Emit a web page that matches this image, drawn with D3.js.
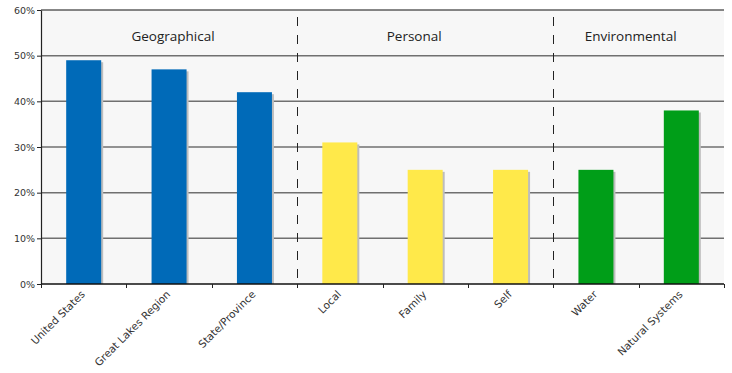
<!DOCTYPE html>
<html>
<head>
<meta charset="utf-8">
<script src="https://cdn.jsdelivr.net/npm/d3@7"></script>
<style>
  body { margin: 0; background: #fff; }
  svg text { fill: #222; }
</style>
</head>
<body>
<svg id="chart"></svg>
<script>
// Data
const categories = ["United States", "Great Lakes Region", "State/Province", "Local", "Family", "Self", "Water", "Natural Systems"];
const values = [49, 47, 42, 31, 25, 25, 25, 38];
const groups = ["Geographical", "Geographical", "Geographical", "Personal", "Personal", "Personal", "Environmental", "Environmental"];
const groupNames = ["Geographical", "Personal", "Environmental"];
const groupColors = ["#006ab8", "#ffe94a", "#009e18"];
const yTicks = [0, 10, 20, 30, 40, 50, 60];

// Chart Dimensions
const width = 732;
const height = 373;
const margin = { top: 10, right: 8, bottom: 89, left: 41 };

const svg = d3.select("#chart").attr("width", width).attr("height", height);

// Scales
const x = d3.scaleBand()
  .domain(categories)
  .range([margin.left, width - margin.right])
  .paddingInner(0.59)
  .paddingOuter(0.295);

const y = d3.scaleLinear()
  .domain([0, 60])
  .range([height - margin.bottom, margin.top]);

const color = d3.scaleOrdinal().domain(groupNames).range(groupColors);

// Plot background
svg.append("rect")
  .attr("x", margin.left)
  .attr("y", margin.top)
  .attr("width", width - margin.right - margin.left)
  .attr("height", y(0) - margin.top)
  .attr("fill", "#f7f7f7");

// Gridlines
svg.append("g")
  .selectAll("line")
  .data(yTicks.slice(1, -1))
  .enter()
  .append("line")
  .attr("x1", margin.left)
  .attr("x2", width - margin.right)
  .attr("y1", (d) => y(d))
  .attr("y2", (d) => y(d))
  .attr("stroke", "#707070")
  .attr("stroke-width", 1.5);

// Top border
svg.append("line")
  .attr("x1", margin.left)
  .attr("x2", width - margin.right)
  .attr("y1", y(60))
  .attr("y2", y(60))
  .attr("stroke", "#111")
  .attr("stroke-width", 1.2);

// Group separators (between groups)
const step = x.step();
const groupStart = groupNames.map((g) => categories[groups.indexOf(g)]);
const groupEnd = groupNames.map((g) => categories[groups.lastIndexOf(g)]);

svg.append("g")
  .selectAll("line")
  .data(groupStart.slice(1))
  .enter()
  .append("line")
  .attr("x1", (d) => Math.round(x(d) - (step - x.bandwidth()) / 2) + 0.5)
  .attr("x2", (d) => Math.round(x(d) - (step - x.bandwidth()) / 2) + 0.5)
  .attr("y1", y(60))
  .attr("y2", y(0))
  .attr("stroke", "#222")
  .attr("stroke-width", 1)
  .attr("stroke-dasharray", "9,9")
  .attr("stroke-dashoffset", -7);

// Group labels
const labelShift = [4, -11, -8];
svg.append("g")
  .selectAll("text")
  .data(groupNames)
  .enter()
  .append("text")
  .attr("x", (d, i) => {
    const a = x(groupStart[i]) - (step - x.bandwidth()) / 2;
    const b = x(groupEnd[i]) + x.bandwidth() + (step - x.bandwidth()) / 2;
    return (a + b) / 2 + labelShift[i];
  })
  .attr("y", 41)
  .attr("text-anchor", "middle")
  .style("font-family", "'Open Sans', sans-serif")
  .style("font-size", "13.5px")
  .text((d) => d);

// Bar shadows
svg.append("g")
  .selectAll("rect")
  .data(values)
  .enter()
  .append("rect")
  .attr("x", (d, i) => x(categories[i]) + 2)
  .attr("y", (d) => y(d) + 2)
  .attr("width", x.bandwidth())
  .attr("height", (d) => y(0) - y(d) - 2)
  .attr("fill", "#bdbdbd");

// Bars
svg.append("g")
  .selectAll("rect")
  .data(values)
  .enter()
  .append("rect")
  .attr("x", (d, i) => x(categories[i]))
  .attr("y", (d) => y(d))
  .attr("width", x.bandwidth())
  .attr("height", (d) => y(0) - y(d))
  .attr("fill", (d, i) => color(groups[i]));

// Y axis
const yAxis = svg.append("g")
  .attr("transform", `translate(${margin.left},0)`)
  .call(d3.axisLeft(y).tickValues(yTicks).tickFormat((d) => d + "%").tickSize(4).tickSizeOuter(0));
yAxis.select(".domain").attr("stroke", "#222").attr("stroke-width", 1.2);
yAxis.selectAll(".tick line").attr("stroke", "#222");
yAxis.selectAll("text")
  .attr("x", -6)
  .style("font-family", "'DejaVu Sans', sans-serif")
  .style("font-size", "9.5px")
  .style("fill", "#333");

// X axis
const bounds = categories.map((c) => x(c) - (step - x.bandwidth()) / 2).concat([width - margin.right]);
const xAxisG = svg.append("g");
xAxisG.append("line")
  .attr("x1", margin.left)
  .attr("x2", width - margin.right)
  .attr("y1", y(0))
  .attr("y2", y(0))
  .attr("stroke", "#111")
  .attr("stroke-width", 1.5);
xAxisG.selectAll(".xtick")
  .data(bounds)
  .enter()
  .append("line")
  .attr("class", "xtick")
  .attr("x1", (d) => Math.round(d) + 0.5)
  .attr("x2", (d) => Math.round(d) + 0.5)
  .attr("y1", y(0))
  .attr("y2", y(0) + 4)
  .attr("stroke", "#222");

xAxisG.selectAll(".xlabel")
  .data(categories)
  .enter()
  .append("text")
  .attr("class", "xlabel")
  .attr("transform", (d) => `translate(${x(d) + x.bandwidth() / 2 + 2},${y(0) + 11}) rotate(-45)`)
  .attr("text-anchor", "end")
  .style("font-family", "'DejaVu Sans', sans-serif")
  .style("font-size", "10.5px")
  .style("fill", "#333")
  .text((d) => d);
</script>
</body>
</html>
